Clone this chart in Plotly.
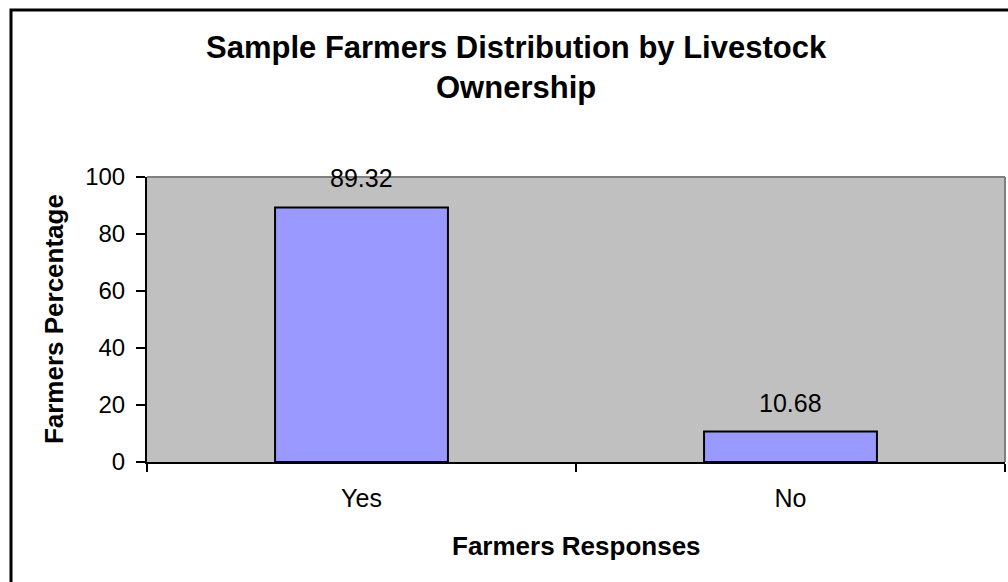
import plotly.graph_objects as go

categories = ["Yes", "No"]
values = [89.32, 10.68]
y_ticks = [0, 20, 40, 60, 80, 100]

FONT = "Liberation Sans, Arial, sans-serif"
W, H = 1008, 582
L, R, T, B = 147, 3, 177, 120
pw, ph = W - L - R, H - T - B

def px_x(x):
    return (x - L) / pw

def px_y(y):
    return 1 + (T - y) / ph

fig = go.Figure(go.Bar(
    x=categories, y=values,
    marker=dict(color="#9999FF", line=dict(color="black", width=2)),
    width=0.403,
    hoverinfo="x+y",
))

annotations = []
for c, v in zip(categories, values):
    annotations.append(dict(x=c, y=v, xref="x", yref="y", text=f"{v:.2f}",
                            showarrow=False, yanchor="middle", yshift=29,
                            font=dict(family=FONT, size=25, color="black")))

annotations += [
    dict(x=px_x(516), y=px_y(68), xref="paper", yref="paper",
         text="<b>Sample Farmers Distribution by Livestock<br>Ownership</b>",
         showarrow=False, align="center",
         xanchor="center", yanchor="middle", font=dict(family=FONT, size=31, color="black")),
    dict(x=0.5, y=px_y(545.5), xref="paper", yref="paper",
         text="<b>Farmers Responses</b>", showarrow=False,
         xanchor="center", yanchor="middle", font=dict(family=FONT, size=26, color="black")),
    dict(x=px_x(53.6), y=0.5, xref="paper", yref="paper",
         text="<b>Farmers Percentage</b>", showarrow=False, textangle=-90,
         xanchor="center", yanchor="middle", font=dict(family=FONT, size=26, color="black")),
]

shapes = [
    dict(type="line", xref="paper", yref="paper", x0=0, x1=1, y0=1, y1=1,
         line=dict(color="#808080", width=2)),
    dict(type="line", xref="paper", yref="paper", x0=1, x1=1, y0=0, y1=1,
         line=dict(color="#808080", width=2)),
    dict(type="rect", xref="paper", yref="paper", x0=px_x(11), x1=px_x(1100),
         y0=px_y(700), y1=px_y(10), line=dict(color="black", width=3)),
]

fig.update_layout(
    width=W, height=H,
    margin=dict(l=L, r=R, t=T, b=B, pad=0),
    paper_bgcolor="white", plot_bgcolor="#C0C0C0",
    showlegend=False,
    annotations=annotations, shapes=shapes,
    font=dict(family=FONT, size=24, color="black"),
)
fig.update_xaxes(type="category", tickson="boundaries", ticks="outside", ticklen=8,
                 tickwidth=2, tickcolor="black", showline=True, linecolor="black",
                 linewidth=2, showgrid=False, ticklabelstandoff=13,
                 tickfont=dict(family=FONT, size=25, color="black"))
fig.update_yaxes(range=[0, 100], tickvals=y_ticks, ticks="outside", ticklen=9,
                 tickwidth=2, tickcolor="black", showline=True, linecolor="black",
                 linewidth=2, showgrid=False, zeroline=False, ticklabelstandoff=6,
                 tickfont=dict(family=FONT, size=24, color="black"))

fig.write_html("out.html")
